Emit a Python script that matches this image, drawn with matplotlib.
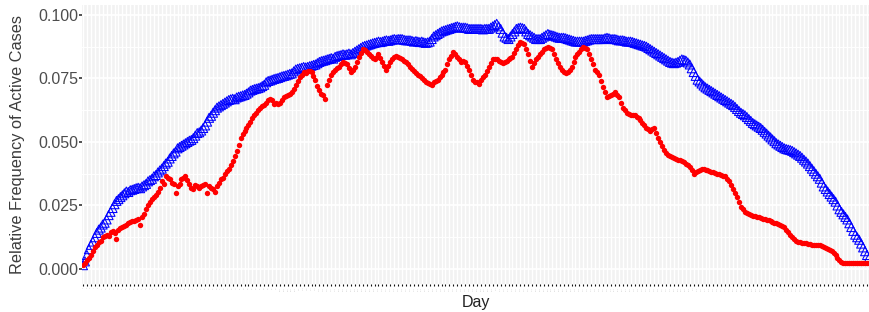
import numpy as np
import matplotlib.pyplot as plt
from matplotlib.ticker import MultipleLocator

plt.rcParams['font.family'] = ['Liberation Sans', 'DejaVu Sans']

# relative frequency of active cases, one value per day
blue_vals = [
    .0015, .0030, .0055, .0078, .0095, .0108, .0125, .0142, .0155, .0163,
    .0175, .0182, .0195, .0212, .0225, .0240, .0255, .0268, .0275, .0283,
    .0290, .0298, .0305, .0303, .0310, .0312, .0315, .0318, .0320, .0318,
    .0325, .0330, .0335, .0345, .0350, .0355, .0365, .0370, .0380, .0388,
    .0395, .0405, .0415, .0422, .0435, .0445, .0455, .0462, .0475, .0480,
    .0485, .0490, .0495, .0500, .0505, .0508, .0515, .0525, .0535, .0538,
    .0545, .0555, .0565, .0580, .0595, .0603, .0615, .0625, .0635, .0640,
    .0645, .0650, .0655, .0660, .0665, .0668, .0670, .0668, .0675, .0678,
    .0680, .0683, .0685, .0690, .0695, .0702, .0705, .0708, .0710, .0712,
    .0715, .0720, .0725, .0735, .0740, .0742, .0745, .0748, .0750, .0752,
    .0755, .0758, .0760, .0762, .0765, .0768, .0770, .0778, .0785, .0788,
    .0790, .0792, .0795, .0793, .0795, .0798, .0800, .0803, .0805, .0810,
    .0815, .0818, .0820, .0822, .0825, .0827, .0830, .0828, .0835, .0838,
    .0840, .0842, .0845, .0843, .0845, .0848, .0845, .0850, .0855, .0860,
    .0865, .0870, .0875, .0878, .0880, .0883, .0885, .0888, .0890, .0892,
    .0895, .0893, .0895, .0898, .0900, .0898, .0900, .0903, .0905, .0903,
    .0905, .0905, .0905, .0902, .0900, .0900, .0900, .0898, .0895, .0897,
    .0895, .0893, .0895, .0892, .0890, .0892, .0895, .0905, .0915, .0920,
    .0925, .0930, .0935, .0938, .0940, .0943, .0945, .0948, .0950, .0953,
    .0955, .0952, .0950, .0950, .0950, .0948, .0945, .0945, .0945, .0945,
    .0945, .0945, .0945, .0943, .0945, .0945, .0945, .0950, .0955, .0960,
    .0965, .0955, .0945, .0930, .0915, .0910, .0905, .0915, .0925, .0935,
    .0945, .0948, .0950, .0948, .0945, .0935, .0925, .0920, .0915, .0910,
    .0905, .0905, .0905, .0910, .0915, .0920, .0925, .0922, .0920, .0918,
    .0915, .0912, .0910, .0910, .0910, .0908, .0905, .0903, .0900, .0898,
    .0895, .0895, .0895, .0895, .0895, .0898, .0900, .0903, .0905, .0905,
    .0905, .0905, .0905, .0905, .0905, .0908, .0910, .0908, .0905, .0905,
    .0905, .0903, .0900, .0900, .0900, .0898, .0895, .0895, .0895, .0893,
    .0890, .0888, .0885, .0883, .0880, .0878, .0875, .0870, .0865, .0860,
    .0855, .0850, .0845, .0840, .0835, .0830, .0825, .0820, .0815, .0812,
    .0810, .0812, .0815, .0820, .0825, .0823, .0820, .0813, .0805, .0790,
    .0775, .0760, .0745, .0738, .0730, .0722, .0715, .0710, .0705, .0700,
    .0695, .0690, .0685, .0680, .0675, .0670, .0665, .0660, .0655, .0650,
    .0645, .0638, .0630, .0622, .0615, .0610, .0605, .0598, .0590, .0583,
    .0575, .0570, .0565, .0560, .0555, .0548, .0540, .0533, .0525, .0518,
    .0510, .0503, .0495, .0490, .0485, .0480, .0475, .0472, .0470, .0468,
    .0465, .0460, .0455, .0450, .0445, .0438, .0430, .0423, .0415, .0405,
    .0395, .0385, .0375, .0365, .0355, .0340, .0325, .0315, .0305, .0295,
    .0285, .0275, .0265, .0250, .0235, .0225, .0215, .0205, .0195, .0180,
    .0165, .0150, .0135, .0125, .0115, .0100, .0085, .0070, .0055, .0045,
]

red_vals = [
    .0015, .0022, .0035, .0045, .0055, .0070, .0085, .0095, .0105, .0112,
    .0125, .0130, .0135, .0128, .0145, .0148, .0140, .0120, .0155, .0160,
    .0165, .0170, .0175, .0180, .0185, .0188, .0190, .0192, .0195, .0175,
    .0205, .0218, .0235, .0250, .0265, .0275, .0285, .0292, .0305, .0320,
    .0345, .0335, .0365, .0360, .0355, .0340, .0335, .0300, .0325, .0335,
    .0355, .0360, .0365, .0350, .0335, .0320, .0315, .0330, .0325, .0320,
    .0325, .0330, .0335, .0300, .0325, .0320, .0315, .0305, .0325, .0340,
    .0355, .0360, .0375, .0385, .0395, .0410, .0425, .0445, .0465, .0490,
    .0515, .0530, .0545, .0555, .0565, .0580, .0595, .0605, .0615, .0625,
    .0635, .0640, .0645, .0655, .0665, .0670, .0665, .0650, .0655, .0650,
    .0655, .0665, .0675, .0680, .0685, .0690, .0695, .0710, .0725, .0740,
    .0755, .0765, .0775, .0770, .0780, .0778, .0775, .0760, .0745, .0720,
    .0705, .0690, .0685, .0670, .0725, .0745, .0765, .0775, .0785, .0790,
    .0795, .0805, .0815, .0810, .0805, .0790, .0775, .0785, .0795, .0815,
    .0835, .0850, .0865, .0860, .0855, .0845, .0840, .0830, .0825, .0835,
    .0845, .0830, .0815, .0800, .0785, .0800, .0815, .0825, .0835, .0840,
    .0835, .0830, .0825, .0820, .0815, .0805, .0795, .0788, .0780, .0772,
    .0765, .0758, .0750, .0742, .0735, .0732, .0730, .0725, .0735, .0740,
    .0745, .0755, .0765, .0775, .0785, .0805, .0825, .0840, .0855, .0845,
    .0835, .0825, .0815, .0820, .0815, .0800, .0785, .0765, .0745, .0735,
    .0735, .0730, .0745, .0755, .0765, .0780, .0795, .0810, .0825, .0828,
    .0825, .0820, .0815, .0810, .0815, .0820, .0825, .0830, .0835, .0850,
    .0865, .0880, .0895, .0890, .0885, .0865, .0845, .0820, .0795, .0810,
    .0825, .0835, .0845, .0855, .0865, .0870, .0875, .0870, .0865, .0845,
    .0825, .0810, .0795, .0785, .0775, .0770, .0775, .0785, .0795, .0815,
    .0835, .0845, .0855, .0865, .0875, .0870, .0865, .0845, .0825, .0805,
    .0785, .0775, .0765, .0740, .0715, .0695, .0675, .0680, .0685, .0690,
    .0695, .0685, .0675, .0655, .0635, .0625, .0615, .0610, .0605, .0605,
    .0605, .0600, .0595, .0585, .0575, .0565, .0555, .0550, .0545, .0550,
    .0555, .0535, .0515, .0500, .0485, .0470, .0455, .0450, .0445, .0440,
    .0435, .0432, .0430, .0428, .0425, .0420, .0415, .0408, .0400, .0388,
    .0375, .0380, .0385, .0390, .0395, .0392, .0390, .0388, .0385, .0382,
    .0380, .0378, .0375, .0372, .0370, .0368, .0365, .0355, .0345, .0330,
    .0315, .0300, .0285, .0265, .0245, .0235, .0225, .0220, .0215, .0212,
    .0210, .0208, .0205, .0203, .0200, .0198, .0195, .0194, .0193, .0190,
    .0185, .0183, .0180, .0178, .0175, .0170, .0165, .0155, .0145, .0135,
    .0125, .0118, .0110, .0108, .0105, .0104, .0103, .0102, .0100, .0098,
    .0095, .0095, .0095, .0094, .0093, .0090, .0085, .0083, .0080, .0075,
    .0070, .0063, .0055, .0045, .0035, .0028, .0023, .0023, .0023, .0023,
    .0023, .0023, .0023, .0023, .0023, .0023, .0023, .0023, .0023, .0023,
]

days = np.arange(1, len(blue_vals) + 1)
grid_days = days[::2]
y_ticks = [0.000, 0.025, 0.050, 0.075, 0.100]
y_labels = ['0.000', '0.025', '0.050', '0.075', '0.100']

fig = plt.figure(figsize=(8.7, 3.12), dpi=100)
ax = fig.add_axes([82 / 870, 1 - 284 / 312, 788 / 870, 279 / 312])
ax.set_facecolor('#f2f2f2')

# grid: white vertical lines along the day axis, major + minor horizontals
ax.set_xticks(grid_days)
ax.xaxis.grid(True, color='white', linewidth=1.0, zorder=0)
ax.set_yticks(y_ticks)
ax.yaxis.set_minor_locator(MultipleLocator(0.0125))
ax.yaxis.grid(True, which='major', color='white', linewidth=1.3, zorder=0)
ax.yaxis.grid(True, which='minor', color='white', linewidth=0.7, zorder=0)
ax.set_axisbelow(True)

ax.scatter(days, blue_vals, marker='^', s=42, facecolors='none',
           edgecolors='#0000ff', linewidths=0.75, zorder=2)
ax.scatter(days, red_vals, marker='o', s=15, color='#ff0000',
           linewidths=0, zorder=3)

ax.set_xlim(days[0] - 0.5, days[-1] + 0.5)
ax.set_ylim(-0.0059, 0.1039)

ax.set_yticklabels(y_labels, fontsize=11.5, color='#4d4d4d')
ax.set_xticklabels([str(d) for d in grid_days], fontsize=1.6, rotation=90,
                   color='#c8c8c8')
ax.tick_params(axis='y', which='major', length=2, width=1.2, color='#333333', pad=0.5)
ax.tick_params(axis='y', which='minor', length=0)
ax.tick_params(axis='x', length=1.5, width=0.8, color='#111111', pad=0.5)

ax.set_ylabel('Relative Frequency of Active Cases', fontsize=11.8, color='#3c3c3c', labelpad=10)
ax.set_xlabel('Day', fontsize=11.5, color='#222222', labelpad=3)

for s in ax.spines.values():
    s.set_visible(False)

plt.savefig('out.png', dpi=100)
